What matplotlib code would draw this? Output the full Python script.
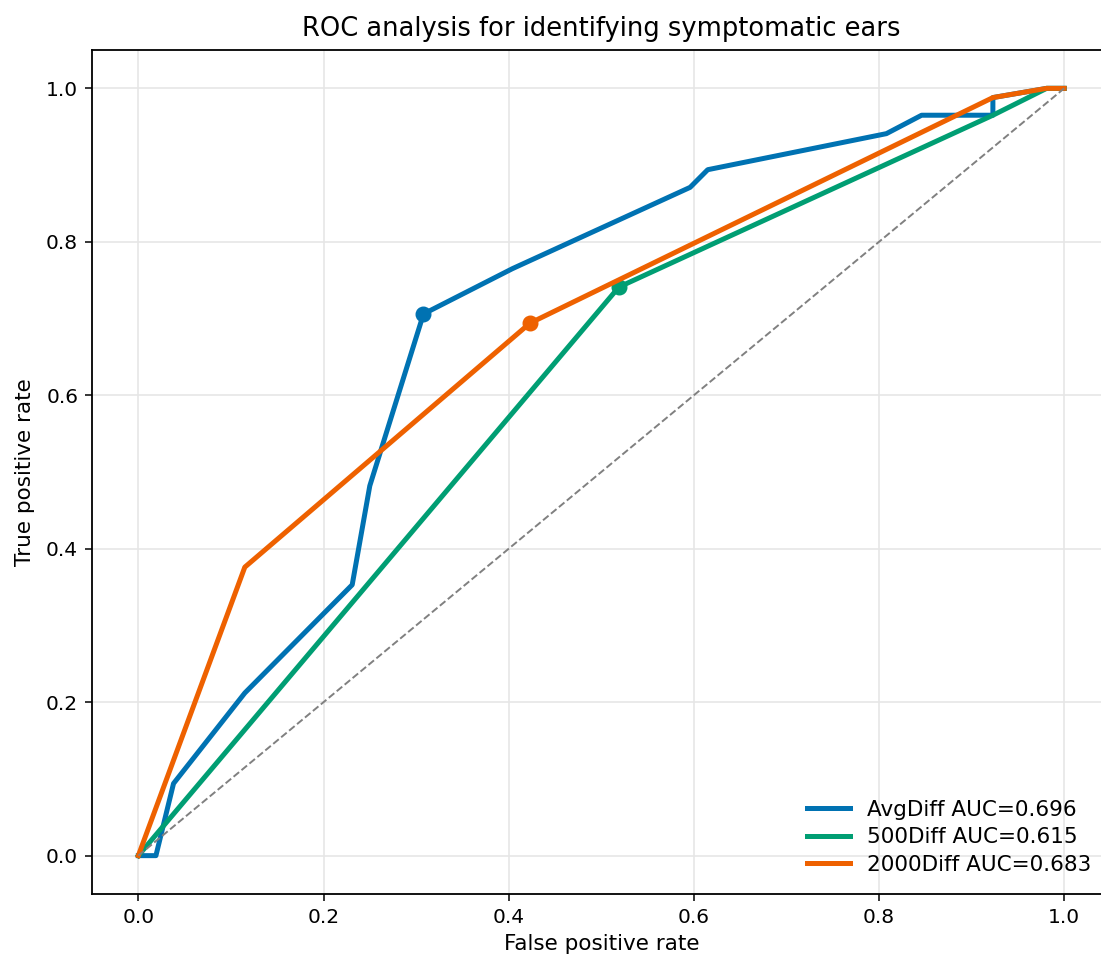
import matplotlib.pyplot as plt
import numpy as np

# ROC curves
avg_fpr = [0.0, 0.019, 0.038, 0.115, 0.231, 0.250, 0.308, 0.404, 0.596, 0.615, 0.808, 0.846, 0.923, 0.923, 0.981, 1.0]
avg_tpr = [0.0, 0.0, 0.094, 0.212, 0.353, 0.482, 0.706, 0.765, 0.871, 0.894, 0.941, 0.965, 0.965, 0.988, 1.0, 1.0]
d500_fpr = [0.0, 0.519, 0.923, 0.981, 1.0]
d500_tpr = [0.0, 0.741, 0.965, 1.0, 1.0]
d2000_fpr = [0.0, 0.115, 0.423, 0.923, 0.981, 1.0]
d2000_tpr = [0.0, 0.376, 0.694, 0.988, 1.0, 1.0]

# optimal cut points
avg_best = (0.308, 0.706)
d500_best = (0.519, 0.741)
d2000_best = (0.423, 0.694)

labels = ["AvgDiff AUC=0.696", "500Diff AUC=0.615", "2000Diff AUC=0.683"]
colors = ["#0072B2", "#009E73", "#EE6100"]

fig = plt.figure(figsize=(11.01, 9.58), dpi=100)
ax = fig.add_axes([0.0836, 0.0668, 0.925, 0.881])

curves = [(avg_fpr, avg_tpr, avg_best), (d500_fpr, d500_tpr, d500_best), (d2000_fpr, d2000_tpr, d2000_best)]
for (fx, ty, best), lab, c in zip(curves, labels, colors):
    ax.plot(fx, ty, color=c, lw=3.6, label=lab)
    ax.plot(best[0], best[1], 'o', color=c, ms=10.5)

ax.plot([0, 1], [0, 1], '--', color='gray', lw=1.4)

ax.set_xlim(-0.05, 1.05)
ax.set_ylim(-0.05, 1.05)
ax.set_xticks(np.arange(0, 1.01, 0.2))
ax.set_yticks(np.arange(0, 1.01, 0.2))
ax.tick_params(labelsize=14.5, length=5, width=1.1, pad=5)
for s in ax.spines.values():
    s.set_linewidth(1.3)
ax.spines['right'].set_visible(False)
ax.grid(True, color='#e6e6e6', lw=1.2)
ax.set_axisbelow(True)
ax.set_xlabel("False positive rate", fontsize=15.5, labelpad=5)
ax.set_ylabel("True positive rate", fontsize=15.5, labelpad=8)
ax.set_title("ROC analysis for identifying symptomatic ears", fontsize=18.5, pad=10)
ax.legend(loc='lower right', frameon=False, fontsize=15.5, bbox_to_anchor=(1.0, 0.0),
          handlelength=2.0, labelspacing=0.35)

fig.savefig("out.png", dpi=100)
